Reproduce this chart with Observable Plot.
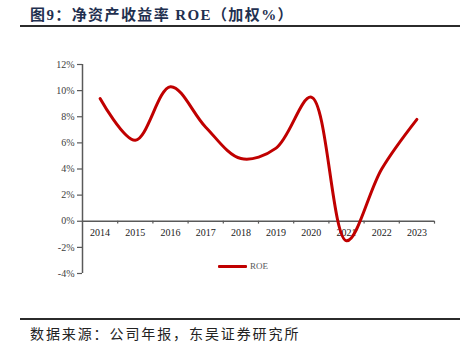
<!DOCTYPE html>
<html>
<head>
<meta charset="utf-8">
<script src="https://cdn.jsdelivr.net/npm/d3@7"></script>
<script src="https://cdn.jsdelivr.net/npm/@observablehq/plot@0.6"></script>
<style>
  html, body { margin: 0; padding: 0; background: #fff; }
  #wrap { position: relative; width: 464px; height: 350px; overflow: hidden; background: #fff; }
  #title { position: absolute; left: 30px; top: 3px; font-family: "Liberation Serif", "Noto Sans CJK SC", serif; font-weight: bold; font-size: 15px; color: #1F3050; white-space: nowrap; letter-spacing: 1.4px; }
  .hr { position: absolute; left: 20px; right: 4px; height: 2px; background: #2b2b2b; }
  #chart { position: absolute; left: 0; top: 40px; }
  #legend { position: absolute; left: 218px; top: 261px; font-family: "Liberation Serif", serif; font-size: 9px; color: #595959; display: flex; align-items: center; }
  #legend .sw { width: 29px; height: 3px; background: #C00000; border-radius: 1px; margin-right: 3px; }
  #caption { position: absolute; left: 30px; top: 323px; font-family: "Noto Sans CJK SC", sans-serif; font-size: 14px; color: #222; letter-spacing: 1.9px; white-space: nowrap; }
</style>
</head>
<body>
<div id="wrap">
  <div id="title">图9：净资产收益率 ROE（加权%）</div>
  <div class="hr" style="top:25px"></div>
  <div id="chart"></div>
  <div id="legend"><span class="sw"></span><span id="legendLabel"></span></div>
  <div class="hr" style="top:318px"></div>
  <div id="caption">数据来源：公司年报，东吴证券研究所</div>
</div>
<script>
const years = [2014, 2015, 2016, 2017, 2018, 2019, 2020, 2021, 2022, 2023];
const roe = [9.4, 6.2, 10.3, 7.2, 4.8, 5.6, 9.5, -1.5, 4.0, 7.8];
const seriesName = "ROE";
const yTicks = [-4, -2, 0, 2, 4, 6, 8, 10, 12];
const xEdges = [2014.5, 2015.5, 2016.5, 2017.5, 2018.5, 2019.5, 2020.5, 2021.5, 2022.5, 2023.5];

const data = years.map((y, i) => ({year: y, value: roe[i]}));
const axisColor = "#595959";

const chart = Plot.plot({
  width: 464,
  height: 250,
  marginLeft: 82,
  marginRight: 30,
  marginTop: 24,
  marginBottom: 17,
  style: {fontFamily: "'Liberation Serif', serif", fontSize: "10px", color: "#404040", background: "#fff"},
  x: {domain: [2013.5, 2023.5], axis: null},
  y: {domain: [-4, 12], axis: null},
  marks: [
    Plot.axisY({ticks: yTicks, tickFormat: d => d + "%", tickSize: 5, tickPadding: 3, stroke: axisColor, strokeWidth: 1.2, fontSize: 10, label: null}),
    Plot.ruleX([2013.5], {y1: -4, y2: 12, stroke: axisColor, strokeWidth: 1.5}),
    Plot.ruleY([0], {x1: 2013.5, x2: 2023.5, stroke: axisColor, strokeWidth: 1.5}),
    Plot.ruleX(xEdges, {x: d => d, y1: 0, y2: -0.22, stroke: axisColor, strokeWidth: 1.2}),
    Plot.text(years, {x: d => d, y: 0, dy: 12, text: d => String(d), fill: "#222", fontSize: 10}),
    Plot.line(data, {x: "year", y: "value", curve: "catmull-rom", stroke: "#C00000", strokeWidth: 3, strokeLinejoin: "round", strokeLinecap: "round"})
  ]
});
document.getElementById("chart").appendChild(chart);
document.getElementById("legendLabel").textContent = seriesName;
</script>
</body>
</html>
